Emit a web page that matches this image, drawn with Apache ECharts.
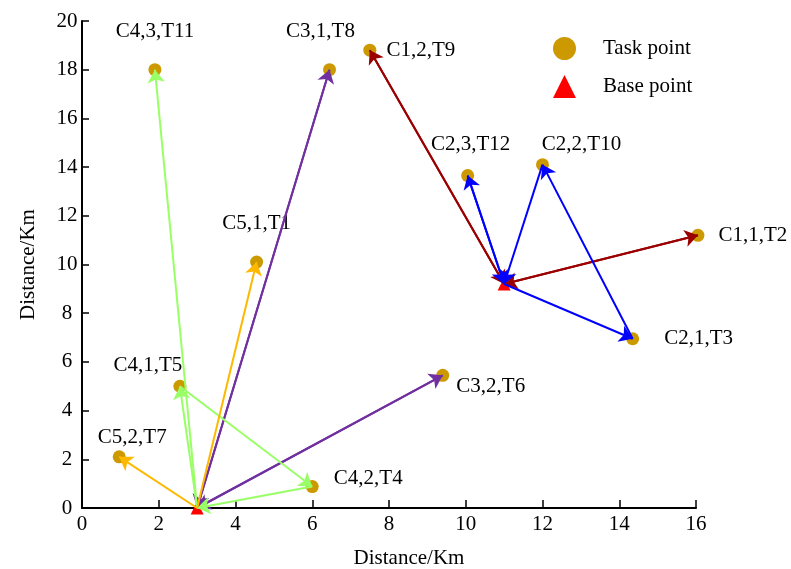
<!DOCTYPE html>
<html>
<head>
<meta charset="utf-8">
<script src="https://cdn.jsdelivr.net/npm/echarts@6/dist/echarts.min.js"></script>
<style>
  html, body { margin: 0; padding: 0; background: #fff; }
  #chart { width: 791px; height: 569px; }
</style>
</head>
<body>
<div id="chart"></div>
<script>
// Task points (x, y in km) and their "vehicle,order,task" labels
const taskIds    = ['T1', 'T2', 'T3', 'T4', 'T5', 'T6', 'T7', 'T8', 'T9', 'T10', 'T11', 'T12'];
const taskLabels = ['C5,1,T1', 'C1,1,T2', 'C2,1,T3', 'C4,2,T4', 'C4,1,T5', 'C3,2,T6',
                    'C5,2,T7', 'C3,1,T8', 'C1,2,T9', 'C2,2,T10', 'C4,3,T11', 'C2,3,T12'];
const taskX = [4.55, 16.05, 14.35, 6.0, 2.55, 9.4, 0.97, 6.45, 7.5, 12.0, 1.9, 10.05];
const taskY = [10.1, 11.2, 6.95, 0.88, 5.0, 5.45, 2.1, 18.0, 18.8, 14.1, 18.0, 13.65];

// Base points
const baseIds = ['B1', 'B2'];
const baseX = [3, 11];
const baseY = [0, 9.2];

// Routes per vehicle: each leg is [from, to]; an arrowhead is drawn at "to"
const routeC1 = [['B2', 'T2'], ['T2', 'B2'], ['B2', 'T9'], ['T9', 'B2']];
const routeC2 = [['B2', 'T3'], ['T3', 'T10'], ['T10', 'B2'], ['B2', 'T12'], ['T12', 'B2']];
const routeC3 = [['B1', 'T8'], ['T8', 'B1'], ['B1', 'T6'], ['T6', 'B1']];
const routeC4 = [['B1', 'T5'], ['T5', 'T4'], ['T4', 'B1'], ['B1', 'T11']];
const routeC5 = [['B1', 'T1'], ['B1', 'T7']];

// Axis ticks
const xTicks = [0, 2, 4, 6, 8, 10, 12, 14, 16];
const yTicks = [0, 2, 4, 6, 8, 10, 12, 14, 16, 18, 20];

// ---- presentation ----
const FONT = "'Liberation Serif', 'Times New Roman', serif";
const routeColors = { C1: '#9B0000', C2: '#0000FF', C3: '#7030A0', C4: '#99FF66', C5: '#FFB800' };
// label offsets (px) from each task point's centre
const labelOffset = {
  T1: [0, -39], T2: [55, 0], T3: [66, 0], T4: [56, -8], T5: [-32, -21], T6: [48, 11],
  T7: [13, -19], T8: [-9, -38], T9: [51, 0], T10: [39, -20], T11: [0, -38], T12: [3, -31]
};

const coordOf = {};
taskIds.forEach((id, i) => { coordOf[id] = [taskX[i], taskY[i]]; });
baseIds.forEach((id, i) => { coordOf[id] = [baseX[i], baseY[i]]; });

const taskData = taskIds.map((id, i) => ({
  name: id,
  value: [taskX[i], taskY[i]],
  label: {
    show: true,
    formatter: taskLabels[i],
    position: 'inside',
    align: 'center',
    verticalAlign: 'middle',
    offset: labelOffset[id],
    color: '#000',
    fontFamily: FONT,
    fontSize: 21
  }
}));

function routeSeries(name, legs) {
  return {
    name: name,
    type: 'lines',
    coordinateSystem: 'cartesian2d',
    z: 5,
    clip: false,
    symbol: ['none', 'arrow'],
    symbolSize: [11, 13],
    lineStyle: { color: routeColors[name], width: 2, opacity: 1, curveness: 0 },
    data: legs.map(l => ({ coords: [coordOf[l[0]], coordOf[l[1]]] })),
    silent: true
  };
}

const chart = echarts.init(document.getElementById('chart'), null, { renderer: 'canvas' });
chart.setOption({
  animation: false,
  backgroundColor: '#fff',
  grid: { left: 82, right: 95, top: 21, bottom: 61, containLabel: false, outerBoundsMode: 'none' },
  legend: {
    orient: 'vertical',
    left: 548,
    top: 32,
    itemWidth: 23,
    itemHeight: 23,
    itemGap: 15,
    textStyle: { fontFamily: FONT, fontSize: 21, color: '#000', padding: [0, 0, 0, 22] },
    data: [
      { name: 'Task point', icon: 'circle' },
      { name: 'Base point', icon: 'triangle' }
    ]
  },
  xAxis: {
    type: 'value',
    min: xTicks[0],
    max: xTicks[xTicks.length - 1],
    interval: xTicks[1] - xTicks[0],
    name: 'Distance/Km',
    nameLocation: 'middle',
    nameGap: 40,
    nameTextStyle: { fontFamily: FONT, fontSize: 21, color: '#000', padding: [0, 0, 0, 40] },
    axisLine: { show: true, lineStyle: { color: '#000', width: 2 } },
    axisTick: { show: true, inside: true, length: 8, lineStyle: { color: '#000', width: 1.5 } },
    axisLabel: { fontFamily: FONT, fontSize: 21, color: '#000', margin: 6 },
    splitLine: { show: false }
  },
  yAxis: {
    type: 'value',
    min: yTicks[0],
    max: yTicks[yTicks.length - 1],
    interval: yTicks[1] - yTicks[0],
    name: 'Distance/Km',
    nameLocation: 'middle',
    nameGap: 43,
    nameRotate: 90,
    nameTextStyle: { fontFamily: FONT, fontSize: 21, color: '#000' },
    axisLine: { show: true, lineStyle: { color: '#000', width: 2 } },
    axisTick: { show: true, inside: true, length: 7, lineStyle: { color: '#000', width: 1.5 } },
    axisLabel: { fontFamily: FONT, fontSize: 21, color: '#000', margin: 15, align: 'center' },
    splitLine: { show: false }
  },
  series: [
    {
      name: 'Task point',
      type: 'scatter',
      symbol: 'circle',
      symbolSize: 13,
      z: 3,
      clip: false,
      itemStyle: { color: '#CC9900', opacity: 1 },
      data: taskData
    },
    {
      name: 'Base point',
      type: 'scatter',
      symbol: 'triangle',
      symbolSize: 13,
      z: 3,
      itemStyle: { color: '#FF0000', opacity: 1 },
      data: baseIds.map((id, i) => ({ name: id, value: [baseX[i], baseY[i]] }))
    },
    routeSeries('C1', routeC1),
    routeSeries('C2', routeC2),
    routeSeries('C3', routeC3),
    routeSeries('C4', routeC4),
    routeSeries('C5', routeC5)
  ]
});
</script>
</body>
</html>
